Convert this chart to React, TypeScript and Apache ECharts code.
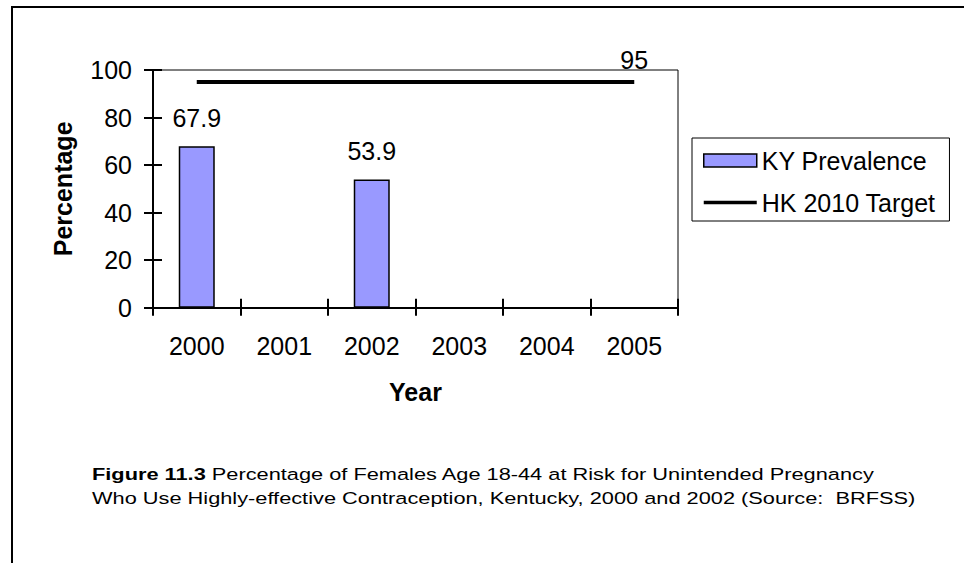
import React, { useEffect, useRef } from "react";
import * as echarts from "echarts";

const years = ["2000", "2001", "2002", "2003", "2004", "2005"];
const kyPrevalence: (number | null)[] = [67.9, null, 53.9, null, null, null];
const hkTarget = [95, 95, 95, 95, 95, 95];
const yMin = 0;
const yMax = 100;
const yInterval = 20;
const captionBold = "Figure 11.3";
const captionLine1 = " Percentage of Females Age 18-44 at Risk for Unintended Pregnancy";
const captionLine2 = "Who Use Highly-effective Contraception, Kentucky, 2000 and 2002 (Source:  BRFSS)";

const FONT = "'Liberation Sans', Arial, Helvetica, sans-serif";
const FS = 25;

export default function App() {
  const ref = useRef<HTMLDivElement>(null);
  useEffect(() => {
    if (!ref.current) return;
    const chart = echarts.init(ref.current, null, { renderer: "svg" });
    const axisCommon = { lineStyle: { color: "#000", width: 2 } };
    chart.setOption({
      animation: false,
      backgroundColor: "#fff",
      textStyle: { fontFamily: FONT, color: "#000" },
      grid: {
        left: 153,
        top: 70,
        width: 525,
        height: 237.7,
        show: true,
        borderColor: "#000",
        borderWidth: 1,
        backgroundColor: "transparent",
      },
      legend: {
        orient: "vertical",
        left: 692,
        top: 138,
        borderColor: "#000",
        borderWidth: 1,
        padding: [10, 14, 6, 10],
        itemWidth: 53,
        itemHeight: 13,
        itemGap: 17,
        textStyle: { fontSize: FS, color: "#000", fontFamily: FONT },
        data: [
          { name: "KY Prevalence", icon: "rect", itemStyle: { borderColor: "#000", borderWidth: 1.5 } },
          {
            name: "HK 2010 Target",
            lineStyle: { width: 3.5, color: "#000" },
            itemStyle: { color: "rgba(0,0,0,0)", borderWidth: 0, opacity: 0 },
          },
        ],
      },
      xAxis: [
        {
          type: "category",
          data: years,
          boundaryGap: true,
          axisLine: axisCommon,
          axisTick: { show: true, inside: false, length: 8, lineStyle: { color: "#000", width: 2 } },
          axisLabel: { fontSize: FS, color: "#000", margin: 26, fontFamily: FONT },
          name: "Year",
          nameLocation: "middle",
          nameGap: 72,
          nameTextStyle: { fontSize: FS, fontWeight: "bold", color: "#000", fontFamily: FONT },
          splitLine: { show: false },
        },
        {
          type: "category",
          data: years,
          position: "bottom",
          boundaryGap: true,
          axisLine: { show: false },
          axisTick: { show: true, inside: true, length: 9, lineStyle: { color: "#000", width: 2 } },
          axisLabel: { show: false },
          splitLine: { show: false },
        },
      ],
      yAxis: [
        {
          type: "value",
          min: yMin,
          max: yMax,
          interval: yInterval,
          axisLine: { show: true, ...axisCommon },
          axisTick: { show: true, inside: false, length: 9, lineStyle: { color: "#000", width: 2 } },
          axisLabel: { fontSize: FS, color: "#000", margin: 21, fontFamily: FONT },
          splitLine: { show: false },
          name: "Percentage",
          nameLocation: "middle",
          nameGap: 78,
          nameRotate: 90,
          nameTextStyle: { fontSize: FS, fontWeight: "bold", color: "#000", fontFamily: FONT },
        },
        {
          type: "value",
          min: yMin,
          max: yMax,
          interval: yInterval,
          position: "left",
          axisLine: { show: false },
          axisTick: { show: true, inside: true, length: 9, lineStyle: { color: "#000", width: 2 } },
          axisLabel: { show: false },
          splitLine: { show: false },
        },
      ],
      series: [
        {
          name: "KY Prevalence",
          type: "bar",
          data: kyPrevalence,
          barWidth: 36,
          itemStyle: { color: "#9999FF", borderColor: "#000", borderWidth: 1.5 },
          label: {
            show: true,
            position: "top",
            distance: 16,
            fontSize: FS,
            color: "#000",
            fontFamily: FONT,
          },
        },
        {
          name: "HK 2010 Target",
          type: "line",
          data: hkTarget.map((v, i) =>
            i === hkTarget.length - 1
              ? { value: v, label: { show: true, position: "top", distance: 9, fontSize: FS, color: "#000", fontFamily: FONT } }
              : v
          ),
          symbol: "circle",
          symbolSize: 0,
          showSymbol: true,
          lineStyle: { color: "#000", width: 4 },
          itemStyle: { color: "#000" },
          label: { show: false },
          z: 3,
        },
      ],
      graphic: [
        {
          type: "rect",
          shape: { x: 12, y: 7, width: 2000, height: 2000 },
          style: { fill: "none", stroke: "#000", lineWidth: 2 },
          silent: true,
        },
        {
          type: "text",
          x: 92,
          y: 462,
          scaleX: 1.32,
          scaleY: 1,
          style: {
            text: "{b|" + captionBold + "}{n|" + captionLine1 + "}\n{n|" + captionLine2 + "}",
            rich: {
              b: { fontSize: 16.5, fontWeight: "bold", fontFamily: FONT, fill: "#000", lineHeight: 24 },
              n: { fontSize: 16.5, fontFamily: FONT, fill: "#000", lineHeight: 24 },
            },
            fill: "#000",
          },
        },
      ],
    });
    return () => chart.dispose();
  }, []);
  return (
    <div
      ref={ref}
      style={{ position: "fixed", left: 0, top: 0, width: 964, height: 563, background: "#fff" }}
    />
  );
}
